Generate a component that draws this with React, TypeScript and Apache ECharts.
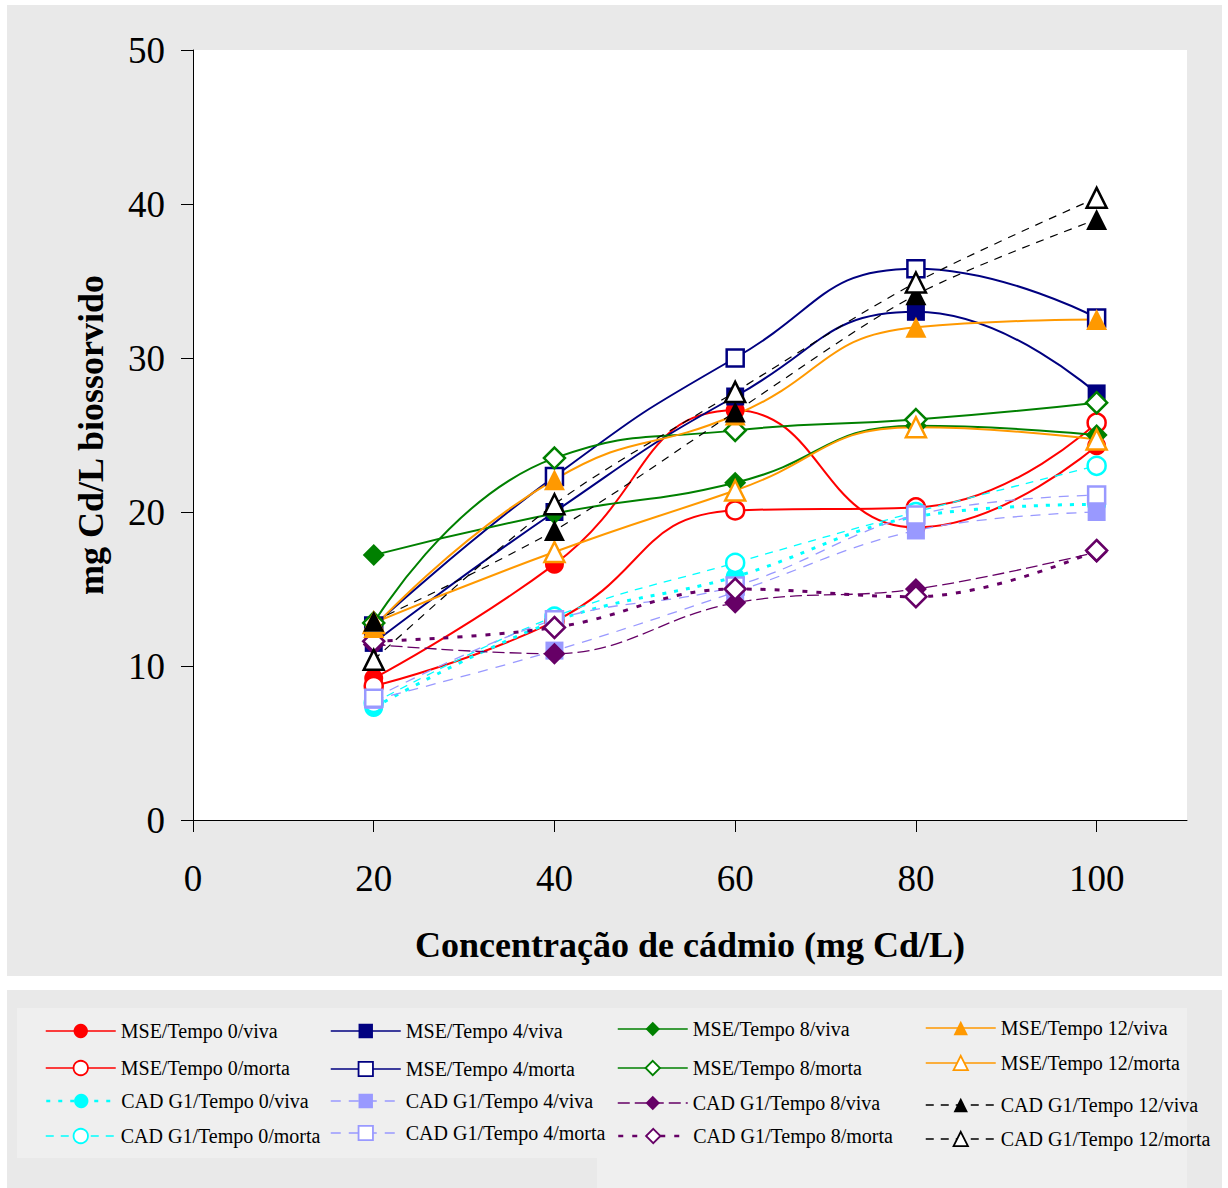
import React, { useEffect, useRef } from "react";
import * as echarts from "echarts";

const xValues = [20, 40, 60, 80, 100];
const xTickLabels = [0, 20, 40, 60, 80, 100];

const mse0Viva = [9.2, 16.6, 26.6, 19.0, 24.3];
const mse0Morta = [8.7, 12.9, 20.1, 20.3, 25.8];
const cad0Viva = [7.3, 12.9, 15.8, 19.7, 20.5];
const cad0Morta = [7.6, 13.2, 16.7, 20.0, 23.0];
const mse4Viva = [11.5, 20.0, 27.5, 33.0, 27.7];
const mse4Morta = [12.6, 22.3, 30.0, 35.8, 32.6];
const cad4Viva = [7.8, 11.0, 14.8, 18.8, 20.0];
const cad4Morta = [7.9, 13.0, 15.2, 19.8, 21.1];
const mse8Viva = [17.2, 19.9, 21.9, 25.6, 25.0];
const mse8Morta = [12.8, 23.5, 25.3, 26.0, 27.1];
const cad8Viva = [11.4, 10.8, 14.1, 15.0, 17.4];
const cad8Morta = [11.6, 12.5, 15.0, 14.5, 17.5];
const mse12Viva = [12.5, 22.1, 26.3, 32.0, 32.5];
const mse12Morta = [12.8, 17.4, 21.4, 25.5, 24.7];
const cad12Viva = [12.9, 18.8, 26.5, 34.1, 39.0];
const cad12Morta = [10.4, 20.5, 27.8, 34.9, 40.4];

type Def = {
  name: string;
  values: number[];
  color: string;
  symbol: string;
  size: number;
  filled: boolean;
  width: number;
  dash: string | number[];
  smooth: number;
};

const FONT = "'Liberation Serif', 'Times New Roman', serif";

const defs: Def[] = [
  { name: "MSE/Tempo 0/viva", values: mse0Viva, color: "#ff0000", symbol: "circle", size: 19, filled: true, width: 2, dash: "solid", smooth: 0.5 },
  { name: "MSE/Tempo 0/morta", values: mse0Morta, color: "#ff0000", symbol: "circle", size: 18, filled: false, width: 2, dash: "solid", smooth: 0.5 },
  { name: "CAD G1/Tempo 0/viva", values: cad0Viva, color: "#00ffff", symbol: "circle", size: 19, filled: true, width: 3, dash: [4, 8], smooth: 0.4 },
  { name: "CAD G1/Tempo 0/morta", values: cad0Morta, color: "#00ffff", symbol: "circle", size: 18, filled: false, width: 1.3, dash: [8, 7], smooth: 0.4 },
  { name: "MSE/Tempo 4/viva", values: mse4Viva, color: "#000080", symbol: "rect", size: 18, filled: true, width: 2, dash: "solid", smooth: 0.5 },
  { name: "MSE/Tempo 4/morta", values: mse4Morta, color: "#000080", symbol: "rect", size: 17, filled: false, width: 2, dash: "solid", smooth: 0.5 },
  { name: "CAD G1/Tempo 4/viva", values: cad4Viva, color: "#9999ff", symbol: "rect", size: 18, filled: true, width: 1.3, dash: [10, 8], smooth: 0.4 },
  { name: "CAD G1/Tempo 4/morta", values: cad4Morta, color: "#9999ff", symbol: "rect", size: 17, filled: false, width: 1.3, dash: [10, 8], smooth: 0.4 },
  { name: "MSE/Tempo 8/viva", values: mse8Viva, color: "#008000", symbol: "diamond", size: 22, filled: true, width: 2, dash: "solid", smooth: 0.5 },
  { name: "MSE/Tempo 8/morta", values: mse8Morta, color: "#008000", symbol: "diamond", size: 21, filled: false, width: 2, dash: "solid", smooth: 0.5 },
  { name: "CAD G1/Tempo 8/viva", values: cad8Viva, color: "#660066", symbol: "diamond", size: 22, filled: true, width: 1.3, dash: [12, 5], smooth: 0.4 },
  { name: "CAD G1/Tempo 8/morta", values: cad8Morta, color: "#660066", symbol: "diamond", size: 21, filled: false, width: 3, dash: [5, 9], smooth: 0.4 },
  { name: "MSE/Tempo 12/viva", values: mse12Viva, color: "#ff9900", symbol: "triangle", size: 21, filled: true, width: 2, dash: "solid", smooth: 0.5 },
  { name: "MSE/Tempo 12/morta", values: mse12Morta, color: "#ff9900", symbol: "triangle", size: 20, filled: false, width: 2, dash: "solid", smooth: 0.5 },
  { name: "CAD G1/Tempo 12/viva", values: cad12Viva, color: "#000000", symbol: "triangle", size: 21, filled: true, width: 1.2, dash: [8, 7], smooth: 0.3 },
  { name: "CAD G1/Tempo 12/morta", values: cad12Morta, color: "#000000", symbol: "triangle", size: 20, filled: false, width: 1.2, dash: [8, 7], smooth: 0.3 },
];

// legend placement (column-major: each column holds 4 entries)
const legendCols = [45, 330, 617, 925];
const legendRows = [
  [1032, 1069, 1102, 1137],
  [1032, 1070, 1102, 1134],
  [1030, 1069, 1104, 1137],
  [1029, 1064, 1106, 1140],
];

export default function App() {
  const ref = useRef<HTMLDivElement>(null);
  useEffect(() => {
    document.body.style.margin = "0";
    document.body.style.overflow = "hidden";
    if (!ref.current) return;
    const chart = echarts.init(ref.current, undefined, { renderer: "svg" });

    const series = defs.map((d) => ({
      type: "line",
      name: d.name,
      data: xValues.map((x, i) => [x, d.values[i]]),
      smooth: d.smooth,
      symbol: d.symbol,
      symbolSize: d.size,
      showAllSymbol: true,
      lineStyle: { color: d.color, width: d.width, type: d.dash },
      itemStyle: {
        color: d.filled ? d.color : "#ffffff",
        borderColor: d.color,
        borderWidth: d.filled ? 0 : 2.5,
        opacity: 1,
      },
      emphasis: { disabled: true },
    }));

    const legends = defs.map((d, i) => {
      const col = Math.floor(i / 4);
      const row = i % 4;
      return {
        data: [
          {
            name: d.name,
            itemStyle: { borderWidth: d.filled ? 0 : 1.8 },
            lineStyle: { width: d.width > 2.5 ? 2.5 : 1.5 },
          },
        ],
        left: legendCols[col],
        top: legendRows[col][row] - 11,
        padding: 0,
        itemWidth: 70,
        itemHeight: 18,
        selectedMode: false,
        textStyle: { fontFamily: FONT, fontSize: 20, color: "#000" },
      };
    });

    chart.setOption({
      animation: false,
      backgroundColor: "#e9e9e9",
      graphic: [
        { type: "rect", shape: { x: 0, y: 0, width: 1228, height: 5 }, style: { fill: "#ffffff" }, z: 0 },
        { type: "rect", shape: { x: 0, y: 0, width: 7, height: 1188 }, style: { fill: "#ffffff" }, z: 0 },
        { type: "rect", shape: { x: 1222, y: 0, width: 6, height: 1188 }, style: { fill: "#ffffff" }, z: 0 },
        { type: "rect", shape: { x: 0, y: 976, width: 1228, height: 14 }, style: { fill: "#ffffff" }, z: 0 },
        { type: "rect", shape: { x: 17, y: 1008, width: 580, height: 150 }, style: { fill: "#efefef" }, z: 0 },
        { type: "rect", shape: { x: 597, y: 1008, width: 590, height: 180 }, style: { fill: "#efefef" }, z: 0 },
      ],
      grid: {
        left: 193,
        top: 50,
        right: 41,
        bottom: 368,
        show: true,
        backgroundColor: "#ffffff",
        borderWidth: 0,
      },
      legend: legends,
      xAxis: {
        type: "value",
        min: 0,
        max: 110,
        interval: 20,
        splitLine: { show: false },
        axisLine: { lineStyle: { color: "#000", width: 1 } },
        axisTick: { inside: false, length: 12, lineStyle: { color: "#000" }, customValues: xTickLabels },
        axisLabel: {
          customValues: xTickLabels,
          margin: 40,
          fontFamily: FONT,
          fontSize: 37,
          color: "#000",
        },
        name: "Concentração de cádmio (mg Cd/L)",
        nameLocation: "middle",
        nameGap: 107,
        nameTextStyle: { fontFamily: FONT, fontSize: 36, fontWeight: "bold", color: "#000" },
      },
      yAxis: {
        type: "value",
        min: 0,
        max: 50,
        interval: 10,
        splitLine: { show: false },
        axisLine: { show: true, lineStyle: { color: "#000", width: 1 } },
        axisTick: { show: true, inside: false, length: 12, lineStyle: { color: "#000" } },
        axisLabel: { margin: 28, fontFamily: FONT, fontSize: 37, color: "#000" },
        name: "mg Cd/L biossorvido",
        nameLocation: "middle",
        nameGap: 84,
        nameRotate: 90,
        nameTextStyle: { fontFamily: FONT, fontSize: 36, fontWeight: "bold", color: "#000" },
      },
      series,
    });
    return () => chart.dispose();
  }, []);
  return <div ref={ref} style={{ width: 1228, height: 1188 }} />;
}
